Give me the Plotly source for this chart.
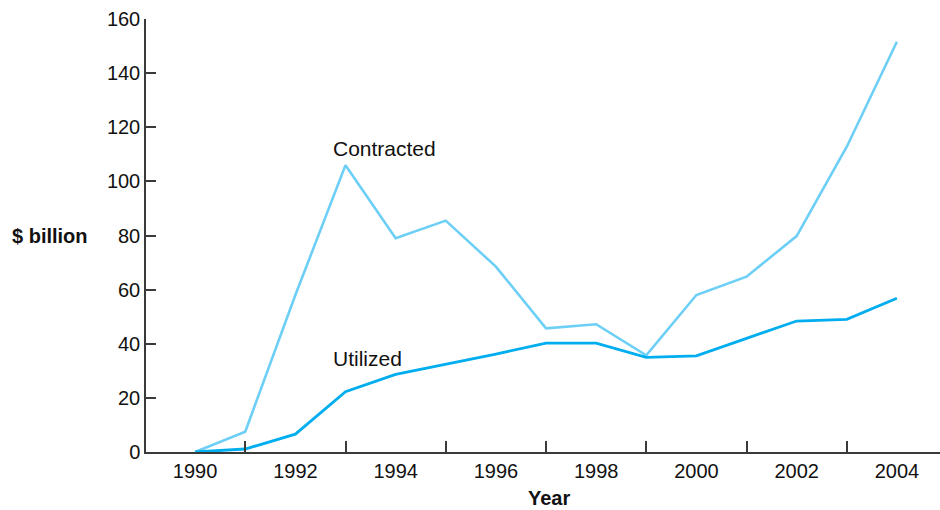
import plotly.graph_objects as go

years = list(range(1990, 2005))
contracted = [0, 7.5, 58, 106, 79, 85.5, 68.5, 45.7, 47.2, 35.7, 58, 64.8, 79.8, 112.8, 151.6]
utilized = [0, 1.1, 6.6, 22.3, 28.7, 32.4, 36.2, 40.2, 40.2, 35, 35.5, 42, 48.4, 49, 56.8]
y_ticks = [0, 20, 40, 60, 80, 100, 120, 140, 160]
x_label_years = list(range(1990, 2005, 2))

FONT = "Liberation Sans, Arial, Helvetica, sans-serif"
AXIS_COLOR = "#3a3a3a"

fig = go.Figure()
fig.add_trace(go.Scatter(
    x=years, y=contracted, mode="lines", name="Contracted",
    line=dict(color="#6dcff6", width=2.6), showlegend=False,
))
fig.add_trace(go.Scatter(
    x=years, y=utilized, mode="lines", name="Utilized",
    line=dict(color="#00aeef", width=2.8), showlegend=False,
))

# series labels placed next to the lines
fig.add_annotation(x=1992.71, y=112, text="Contracted", showarrow=False,
                   xanchor="left", yanchor="middle",
                   font=dict(family=FONT, size=21, color="#111"))
fig.add_annotation(x=1992.71, y=34.4, text="Utilized", showarrow=False,
                   xanchor="left", yanchor="middle",
                   font=dict(family=FONT, size=21, color="#111"))

# axis titles
fig.add_annotation(x=51, xref="paper", y=80, text="<b>$ billion</b>", showarrow=False,
                   xanchor="center", yanchor="middle",
                   font=dict(family=FONT, size=20, color="#111"))
fig.update_annotations(selector=dict(text="<b>$ billion</b>"), xref="paper", x=-0.1205)
fig.add_annotation(x=1997.05, y=0, yref="paper", yshift=-46, text="<b>Year</b>",
                   showarrow=False, xanchor="center", yanchor="middle",
                   font=dict(family=FONT, size=20, color="#111"))

fig.update_layout(
    width=940, height=510,
    margin=dict(l=146, r=0, t=19, b=58),
    paper_bgcolor="white", plot_bgcolor="white",
    font=dict(family=FONT, size=20, color="#111"),
    xaxis=dict(
        range=[1989.02, 2004.86],
        tickmode="array", tickvals=x_label_years,
        ticktext=[str(v) for v in x_label_years],
        ticks="", showgrid=False, zeroline=False,
        showline=True, linecolor=AXIS_COLOR, linewidth=2,
        tickfont=dict(family=FONT, size=20, color="#111"),
        minor=dict(ticks="inside", tick0=1991, dtick=2, ticklen=11,
                   tickwidth=1.5, tickcolor=AXIS_COLOR, showgrid=False),
    ),
    yaxis=dict(
        range=[0, 160],
        tickmode="array", tickvals=y_ticks,
        ticks="inside", ticklen=10, tickwidth=1.5, tickcolor=AXIS_COLOR,
        showgrid=False, zeroline=False,
        showline=True, linecolor=AXIS_COLOR, linewidth=1.5,
        tickfont=dict(family=FONT, size=20, color="#111"),
    ),
)

fig.write_html("out.html")
